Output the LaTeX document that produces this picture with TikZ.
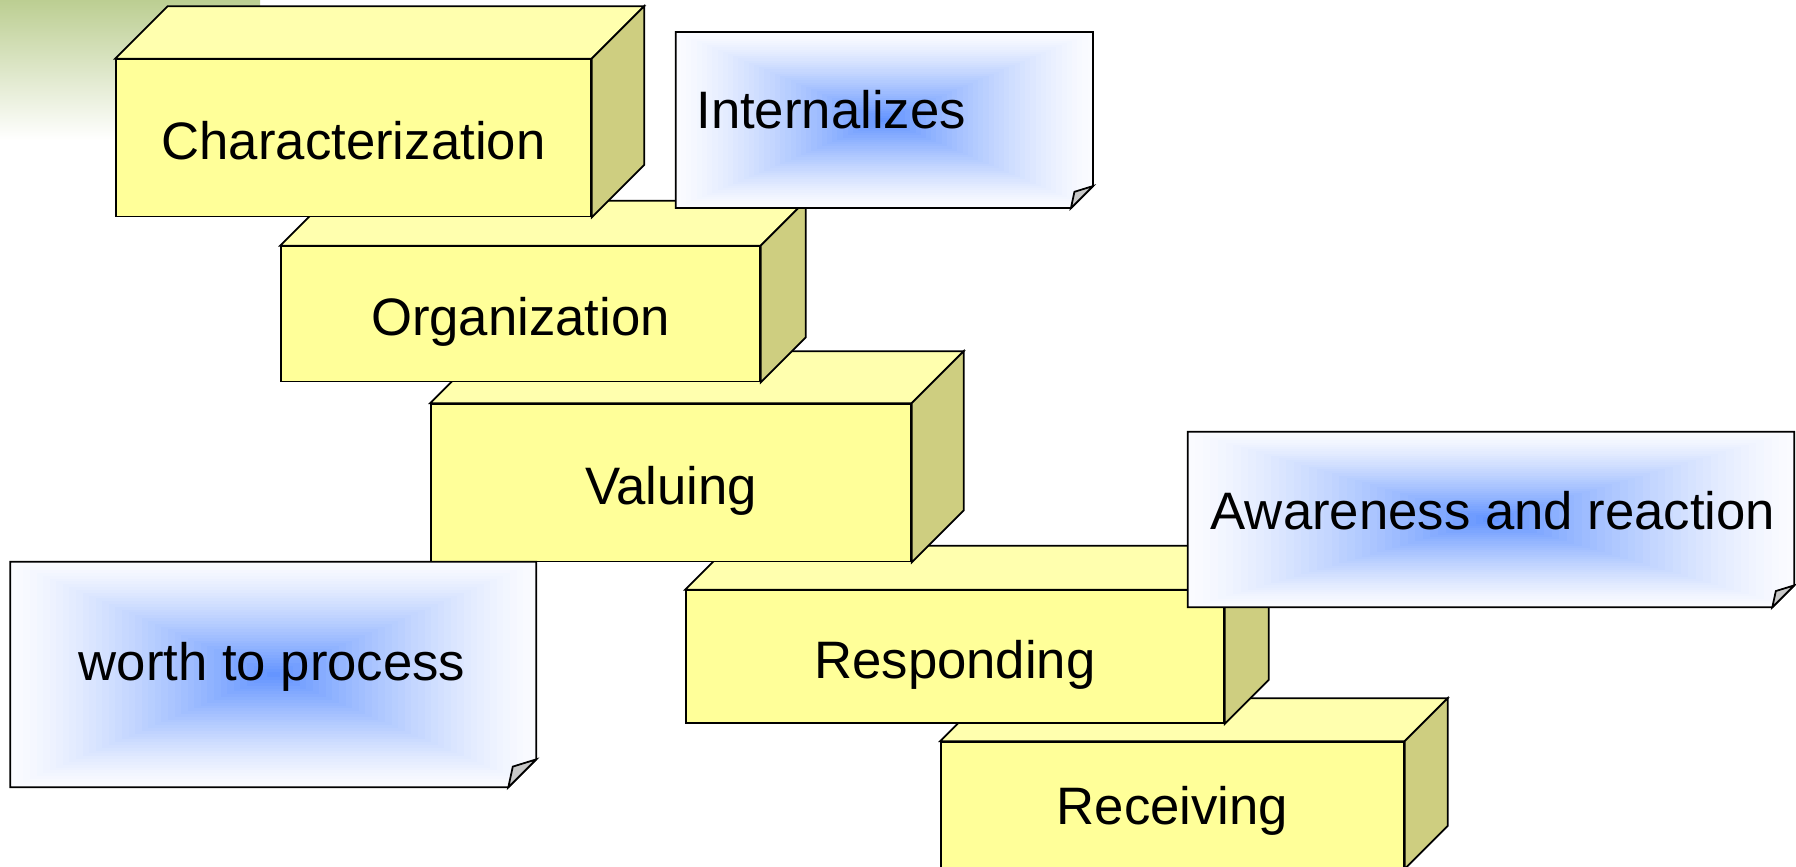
\documentclass[tikz,border=0pt]{standalone}
\usepackage{fontspec}
\setmainfont{Liberation Sans}
\usepackage{xcolor}
\usetikzlibrary{calc}

\definecolor{boxfront}{RGB}{255,255,153}
\definecolor{boxtop}{RGB}{255,255,174}
\definecolor{boxside}{RGB}{206,206,128}
\definecolor{notecore}{RGB}{96,146,255}
\definecolor{noteedge}{RGB}{250,251,255}
\definecolor{flapgray}{RGB}{200,200,200}
\definecolor{bggreen}{RGB}{188,206,146}

% top and right faces of a slab, drawn from its front node
\newcommand{\slabfaces}[2]{%
  \draw[edge, fill=boxtop] (#1.north west) -- ++(#2,-#2) -- ($(#1.north east)+(#2,-#2)$) -- (#1.north east) -- cycle;
  \draw[edge, fill=boxside] (#1.north east) -- ++(#2,-#2) -- ($(#1.south east)+(#2,-#2)$) -- (#1.south east) -- cycle;
}

% shaded paper with a folded corner round a node
\newcommand{\notepaper}[2]{%
  \begin{scope}
    \clip (#1.north west) -- (#1.north east) -- ([yshift=#2]#1.south east) -- ([xshift=-#2]#1.south east) -- (#1.south west) -- cycle;
    \foreach \k [evaluate=\k as \pct using 100*(\k/40)^1.3] in {0,...,39}
      \fill[notecore!\pct!noteedge] ($(#1.center)!{1-\k/40}!(#1.north west)$) rectangle ($(#1.center)!{1-\k/40}!(#1.south east)$);
  \end{scope}
  \draw[edge] (#1.north west) -- (#1.north east) -- ([yshift=#2]#1.south east) -- ([xshift=-#2]#1.south east) -- (#1.south west) -- cycle;
  \draw[edge, fill=flapgray] ([xshift=-#2]#1.south east) -- ([xshift=-0.84*#2, yshift=0.74*#2]#1.south east) -- ([yshift=#2]#1.south east) -- cycle;
}

\begin{document}
\begin{tikzpicture}[x=0.02cm, y=-0.02cm,
    edge/.style={draw, line width=1pt, line join=miter},
    slab/.style={edge, fill=boxfront, inner sep=0pt, text height=24.4pt, text depth=0pt, font=\fontsize{30}{36}\selectfont},
    paper/.style={inner sep=0pt},
    notetext/.style={inner sep=0pt, font=\fontsize{30}{36}\selectfont}
]
    \useasboundingbox (0,0) rectangle (1796,866);
    \clip (0,0) rectangle (1796,866);
    \fill[white] (0,0) rectangle (1796,866);
    \shade[top color=bggreen, bottom color=white] (0,0) rectangle (260,140);

    % slabs, lowest first
    \node[slab, text height=22.6pt, minimum width=9.26cm, minimum height=2.52cm] (recv) at (1172.5,805) {Receiving};
    \slabfaces{recv}{43}
    \node[slab, minimum width=10.76cm, minimum height=2.65cm] (resp) at (955,656.75) {Responding};
    \slabfaces{resp}{44}
    \node[slab, minimum width=9.6cm, minimum height=3.15cm] (valu) at (671,482.75) {Valuing};
    \slabfaces{valu}{52}
    \node[slab, minimum width=9.58cm, minimum height=2.7cm] (orga) at (520.5,314) {Organization};
    \slabfaces{orga}{45}
    \node[slab, minimum width=9.5cm, minimum height=3.14cm] (char) at (353.5,138) {Characterization};
    \slabfaces{char}{52.5}

    % notes
    \node[paper, minimum width=8.33cm, minimum height=3.51cm] (intern) at (884.35,120) {};
    \notepaper{intern}{0.44cm}
    \node[notetext, anchor=west] (internlbl) at (696,110) {Internalizes};

    \node[paper, minimum width=12.12cm, minimum height=3.5cm] (aware) at (1491,519.5) {};
    \notepaper{aware}{0.44cm}
    \node[notetext] (awarelbl) at (1493,511) {Awareness and reaction};

    \node[paper, minimum width=10.51cm, minimum height=4.5cm] (worth) at (273.25,674.5) {};
    \notepaper{worth}{0.56cm}
    \node[notetext] (worthlbl) at (272,667) {worth to process};
\end{tikzpicture}
\end{document}
